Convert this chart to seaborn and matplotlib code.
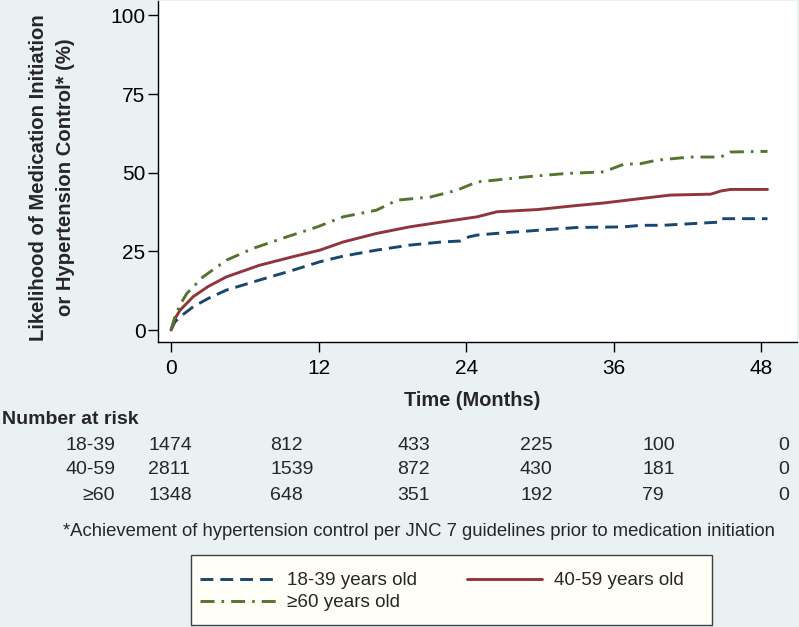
import seaborn as sns
import matplotlib.pyplot as plt
import matplotlib.patches as mpatches
import pandas as pd

# Cumulative likelihood (%)
months_18_39 = [0, 0.3, 0.73, 1.8, 3, 4.5, 7.2, 9.9, 12.1, 14, 16.7, 19.4, 22, 23.5,
                24.2, 24.9, 27, 29.8, 33, 36.8, 38.2, 40, 43.6, 44.6, 44.8, 48.5]
pct_18_39 = [0, 2.5, 4.2, 7.4, 10, 12.7, 15.9, 19.0, 21.7, 23.5, 25.4, 27.0, 28.0, 28.3,
             29.6, 30.2, 30.9, 31.7, 32.6, 32.8, 33.3, 33.3, 34.1, 34.3, 35.4, 35.4]

months_40_59 = [0, 0.3, 0.73, 1.8, 3, 4.5, 7.2, 9.9, 12.1, 14, 16.7, 19.4, 22.1, 24.9,
                26.5, 29.8, 32.5, 35.2, 38.2, 40.6, 43.9, 44.7, 45.5, 48.5]
pct_40_59 = [0, 3.5, 6.3, 10.6, 13.8, 16.9, 20.6, 23.3, 25.4, 28.0, 30.7, 32.8, 34.4, 36.0,
             37.6, 38.3, 39.4, 40.4, 41.8, 42.9, 43.2, 44.2, 44.7, 44.7]

months_60 = [0, 0.3, 0.73, 1.28, 2.6, 4.5, 6.7, 9.4, 11.9, 14, 16.7, 18.4, 21.1, 23.2,
             24.9, 26.2, 28.9, 31.9, 35.2, 36.8, 38.2, 39.5, 42.2, 44.7, 45.5, 48.5]
pct_60 = [0, 4, 8, 11.6, 16.9, 22.2, 26, 29.6, 32.8, 36, 38.1, 41.3, 42.3, 44.4,
          47.1, 47.6, 48.7, 49.7, 50.3, 52.7, 52.9, 54, 55, 55, 56.6, 56.8]

group_names = ['18-39 years old', '40-59 years old', '\u226560 years old']
x_ticks = [0, 12, 24, 36, 48]
y_ticks = [0, 25, 50, 75, 100]

# number-at-risk table
risk_groups = ['18-39', '40-59', '\u226560']
risk_18_39 = [1474, 812, 433, 225, 100, 0]
risk_40_59 = [2811, 1539, 872, 430, 181, 0]
risk_60 = [1348, 648, 351, 192, 79, 0]

footnote = '*Achievement of hypertension control per JNC 7 guidelines prior to medication initiation'

bg = '#EAF1F3'
colors = ['#1A476F', '#90353B', '#55752F']
styles = [(0, (4.4, 2.4)), '-', (0, (4.8, 2.4, 0.9, 2.4))]

sns.set_style('ticks')
plt.rcParams['font.family'] = ['Liberation Sans', 'DejaVu Sans']

W, H = 799, 627
fig = plt.figure(figsize=(W / 100, H / 100), dpi=100, facecolor=bg)
ax = fig.add_axes([158 / W, 1 - 342 / H, (797 - 158) / W, 341 / H])
ax.set_facecolor('white')

series = [(months_18_39, pct_18_39), (months_40_59, pct_40_59), (months_60, pct_60)]
for (mx, py), name, c, ls in zip(series, group_names, colors, styles):
    df = pd.DataFrame({'month': mx, 'pct': py})
    sns.lineplot(data=df, x='month', y='pct', ax=ax, color=c, linewidth=2.1,
                 linestyle=ls, label=name, legend=False, estimator=None)

ax.set_xlim(-1.06, 50.9)
ax.set_ylim(-3.8, 104.6)
ax.set_xticks(x_ticks)
ax.set_yticks(y_ticks)
ax.tick_params(axis='both', length=7, width=1, labelsize=15, color='black', labelcolor='black')
ax.tick_params(axis='x', pad=5)
ax.tick_params(axis='y', pad=2)
ax.set_xlabel('')
ax.set_ylabel('')
sns.despine(ax=ax)
for s in ['left', 'bottom']:
    ax.spines[s].set_color('black')
    ax.spines[s].set_linewidth(1.0)

fig.text(52 / W, 1 - 177.5 / H, 'Likelihood of Medication Initiation\nor Hypertension Control* (%)',
         rotation=90, ha='center', va='center', multialignment='center',
         fontsize=14.6, fontweight='bold', linespacing=1.5)
fig.text(472 / W, 1 - 401 / H, 'Time (Months)', ha='center', va='center',
         fontsize=14.4, fontweight='bold')

# number at risk
fig.text(2 / W, 1 - 420 / H, 'Number at risk', ha='left', va='center',
         fontsize=14, fontweight='bold')
col_x = [148, 270, 397, 520, 642, 778]
row_y = [446, 470, 495]
for g, counts, yy in zip(risk_groups, [risk_18_39, risk_40_59, risk_60], row_y):
    fig.text(115 / W, 1 - yy / H, g, ha='right', va='center', fontsize=14)
    for cx, n in zip(col_x, counts):
        fig.text(cx / W, 1 - yy / H, str(n), ha='left', va='center', fontsize=14)

fig.text(418.5 / W, 1 - 532 / H, footnote, ha='center', va='center', fontsize=13.3)

# legend box
fig.patches.append(mpatches.Rectangle((191 / W, 1 - 625 / H), 521 / W, 70 / H,
                                      transform=fig.transFigure, facecolor='#FFFFF7',
                                      edgecolor='#404040', linewidth=1.0, zorder=0))
h = ax.get_lines()
order = [0, 2, 1]
leg = fig.legend([h[i] for i in order], [group_names[i] for i in order],
                 loc='upper left', bbox_to_anchor=(200 / W, 1 - 572 / H),
                 ncol=2, fontsize=13.6, handlelength=4.0, handletextpad=0.63,
                 columnspacing=2.6, labelspacing=0.25, borderpad=0,
                 borderaxespad=0, frameon=False)

fig.savefig('out.png', dpi=100, facecolor=bg)
